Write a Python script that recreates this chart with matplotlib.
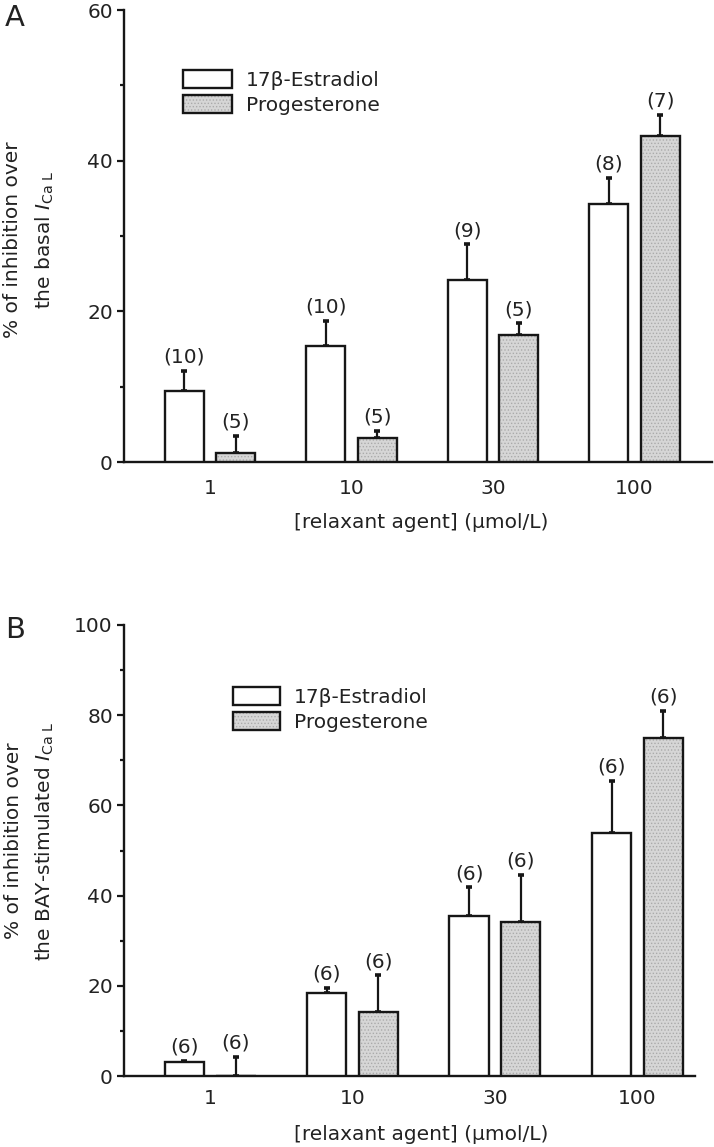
import matplotlib
matplotlib.use("Agg")
import matplotlib.pyplot as plt
import numpy as np
from matplotlib.patches import Patch
from matplotlib.ticker import MultipleLocator

# ---------------- data ----------------
concentrations = ["1", "10", "30", "100"]

a_estradiol = [9.4, 15.4, 24.2, 34.2]
a_estradiol_sem = [2.7, 3.3, 4.7, 3.5]
a_progesterone = [1.2, 3.2, 16.8, 43.3]
a_progesterone_sem = [2.3, 0.9, 1.6, 2.8]
a_n_estradiol = [10, 10, 9, 8]
a_n_progesterone = [5, 5, 5, 7]

b_estradiol = [3.0, 18.3, 35.5, 53.8]
b_estradiol_sem = [0.3, 1.3, 6.3, 11.7]
b_progesterone = [0.1, 14.3, 34.2, 74.9]
b_progesterone_sem = [4.2, 8.0, 10.4, 6.1]
b_n_estradiol = [6, 6, 6, 6]
b_n_progesterone = [6, 6, 6, 6]

series_labels = ["17\u03b2-Estradiol", "Progesterone"]

# ---------------- style ----------------
LC = "#161616"
TC = "#222222"
GREY = "#d6d6d6"
HATCHC = "#aaaaaa"
FS = 14.5
LW = 1.7
plt.rcParams["font.family"] = ["DejaVu Sans"]
plt.rcParams["hatch.linewidth"] = 0.6
plt.rcParams["mathtext.fontset"] = "dejavusans"

W, H = 714, 1147
fig = plt.figure(figsize=(W / 100, H / 100), dpi=100)


def rect(l, t, r, b):
    return [l / W, 1 - b / H, (r - l) / W, (b - t) / H]


def panel(ax, est, est_sem, prog, prog_sem, n_est, n_prog, ymax, major, xlim,
          xpad):
    x = np.arange(len(concentrations))
    off, wid = 0.182, 0.275
    ax.bar(x - off, est, wid, color="white", edgecolor=LC, linewidth=LW,
           zorder=3)
    ax.bar(x + off, prog, wid, color=GREY, edgecolor=HATCHC, linewidth=0,
           hatch=".....", zorder=3)
    ax.bar(x + off, prog, wid, fill=False, edgecolor=LC, linewidth=LW,
           zorder=4)
    ax.errorbar(x - off, est, yerr=[np.zeros(4), est_sem], fmt="none",
                ecolor=LC, elinewidth=1.6, capsize=2.2, capthick=2.6, zorder=2)
    ax.errorbar(x + off, prog, yerr=[np.zeros(4), prog_sem], fmt="none",
                ecolor=LC, elinewidth=1.6, capsize=2.2, capthick=2.6, zorder=2)
    for xi, v, s, n in zip(x - off, est, est_sem, n_est):
        ax.annotate(f"({n})", (xi, v + s), xytext=(0, 3),
                    textcoords="offset points", ha="center", va="bottom",
                    fontsize=FS, color=TC)
    for xi, v, s, n in zip(x + off, prog, prog_sem, n_prog):
        ax.annotate(f"({n})", (xi, v + s), xytext=(0, 3),
                    textcoords="offset points", ha="center", va="bottom",
                    fontsize=FS, color=TC)
    ax.set_xlim(*xlim)
    ax.set_ylim(0, ymax)
    ax.set_yticks(np.arange(0, ymax + 1, major))
    ax.yaxis.set_minor_locator(MultipleLocator(major / 2))
    ax.set_xticks(x, concentrations)
    for s in ("top", "right"):
        ax.spines[s].set_visible(False)
    for s in ("left", "bottom"):
        ax.spines[s].set_linewidth(1.7)
        ax.spines[s].set_color(LC)
    ax.tick_params(axis="y", which="major", length=5, width=1.6, color=LC,
                   labelsize=FS, labelcolor=TC, pad=3)
    ax.tick_params(axis="y", which="minor", length=3, width=1.6, color=LC)
    ax.tick_params(axis="x", length=0, labelsize=FS, labelcolor=TC, pad=xpad)
    ax.patch.set_visible(False)


def legend(ax, anchor_px, hl):
    hs = [
        Patch(facecolor="white", edgecolor=LC, linewidth=LW),
        (Patch(facecolor=GREY, edgecolor=HATCHC, linewidth=0, hatch="....."),
         Patch(fill=False, edgecolor=LC, linewidth=LW)),
    ]
    ax.legend(hs, series_labels, loc="upper left",
              bbox_to_anchor=(anchor_px[0] / W, 1 - anchor_px[1] / H),
              bbox_transform=fig.transFigure, frameon=False, fontsize=FS,
              borderpad=0, borderaxespad=0, handlelength=hl, handleheight=1.0,
              handletextpad=0.7, labelspacing=0.25, labelcolor=TC)


axA = fig.add_axes(rect(124, 10, 712, 462))
panel(axA, a_estradiol, a_estradiol_sem, a_progesterone, a_progesterone_sem,
      a_n_estradiol, a_n_progesterone, 60, 20, (-0.608, 3.548), 12)
legend(axA, (183, 70), 2.44)

axB = fig.add_axes(rect(124, 625, 695, 1076))
panel(axB, b_estradiol, b_estradiol_sem, b_progesterone, b_progesterone_sem,
      b_n_estradiol, b_n_progesterone, 100, 20, (-0.604, 3.404), 9)
legend(axB, (233, 687), 2.34)

# axis labels
fig.text(421 / W, 1 - 522 / H, "[relaxant agent] (\u03bcmol/L)", ha="center",
         va="center", fontsize=FS, color=TC)
fig.text(421 / W, 1 - 1134 / H, "[relaxant agent] (\u03bcmol/L)", ha="center",
         va="center", fontsize=FS, color=TC)

fig.text(13 / W, 1 - 240 / H, "% of inhibition over", rotation=90,
         ha="center", va="center", fontsize=FS, color=TC)
fig.text(45 / W, 1 - 240 / H, r"the basal $I_{\mathrm{Ca\ L}}$", rotation=90,
         ha="center", va="center", fontsize=FS, color=TC)
fig.text(14 / W, 1 - 841 / H, "% of inhibition over", rotation=90,
         ha="center", va="center", fontsize=FS, color=TC)
fig.text(45 / W, 1 - 842 / H, r"the BAY-stimulated $I_{\mathrm{Ca\ L}}$",
         rotation=90, ha="center", va="center", fontsize=FS, color=TC)

fig.text(5 / W, 1 - 4 / H, "A", ha="left", va="top", fontsize=21, color=TC)
fig.text(5 / W, 1 - 616 / H, "B", ha="left", va="top", fontsize=21, color=TC)

fig.savefig("out.png", dpi=100)
